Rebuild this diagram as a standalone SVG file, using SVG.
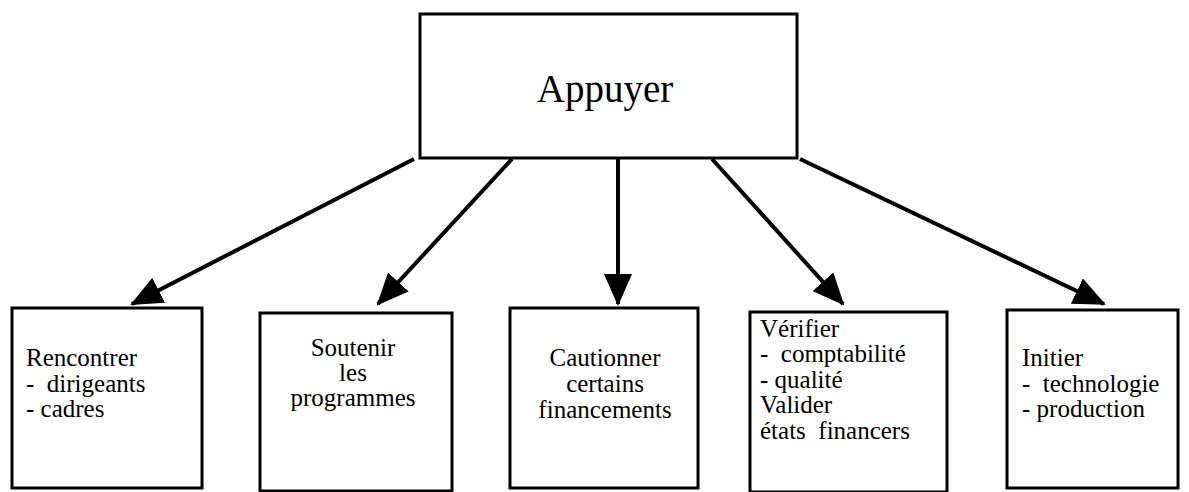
<svg xmlns="http://www.w3.org/2000/svg" width="1189" height="492" viewBox="0 0 1189 492">
<style>
.box{fill:#fff;stroke:#000;stroke-width:3}
.t{font-family:"Liberation Serif","Times New Roman",serif;font-size:25px;fill:#000;white-space:pre}
.c{text-anchor:middle}
.edge{stroke:#000;stroke-width:4;fill:none}
</style>
<defs>
<marker id="ah" markerWidth="8" markerHeight="7" refX="7.5" refY="3.5" orient="auto" markerUnits="strokeWidth">
<path d="M0,0 L8,3.5 L0,7 Z" fill="#000"/>
</marker>
</defs>
<rect width="1189" height="492" fill="#fff"/>
<g id="connectors">
<line class="edge" x1="414" y1="159" x2="132" y2="304" marker-end="url(#ah)"/>
<line class="edge" x1="512" y1="159" x2="378" y2="304" marker-end="url(#ah)"/>
<line class="edge" x1="618" y1="159" x2="618" y2="304" marker-end="url(#ah)"/>
<line class="edge" x1="712" y1="159" x2="843" y2="304" marker-end="url(#ah)"/>
<line class="edge" x1="800" y1="159" x2="1104" y2="304" marker-end="url(#ah)"/>
</g>
<g id="appuyer">
<rect class="box" x="420" y="14" width="377" height="144"/>
<text class="t c" x="605" y="102" style="font-size:39px">Appuyer</text>
</g>
<g id="rencontrer">
<rect class="box" x="12" y="308" width="190" height="180"/>
<text class="t" x="26" y="366">Rencontrer</text>
<text class="t" x="26" y="392" xml:space="preserve">-  dirigeants</text>
<text class="t" x="26" y="417">- cadres</text>
</g>
<g id="soutenir">
<rect class="box" x="260" y="313" width="192" height="178"/>
<text class="t c" x="353" y="356">Soutenir</text>
<text class="t c" x="353" y="381">les</text>
<text class="t c" x="353" y="406">programmes</text>
</g>
<g id="cautionner">
<rect class="box" x="510" y="308" width="188" height="180"/>
<text class="t c" x="605" y="366">Cautionner</text>
<text class="t c" x="605" y="392">certains</text>
<text class="t c" x="605" y="418">financements</text>
</g>
<g id="verifier">
<rect class="box" x="750" y="312" width="197" height="180"/>
<text class="t" x="760" y="337">Vérifier</text>
<text class="t" x="760" y="362" xml:space="preserve">-  comptabilité</text>
<text class="t" x="760" y="388">- qualité</text>
<text class="t" x="760" y="413">Valider</text>
<text class="t" x="760" y="439" xml:space="preserve">états  financers</text>
</g>
<g id="initier">
<rect class="box" x="1007" y="310" width="171" height="178"/>
<text class="t" x="1022" y="366">Initier</text>
<text class="t" x="1022" y="392" xml:space="preserve">-  technologie</text>
<text class="t" x="1022" y="417">- production</text>
</g>
</svg>
